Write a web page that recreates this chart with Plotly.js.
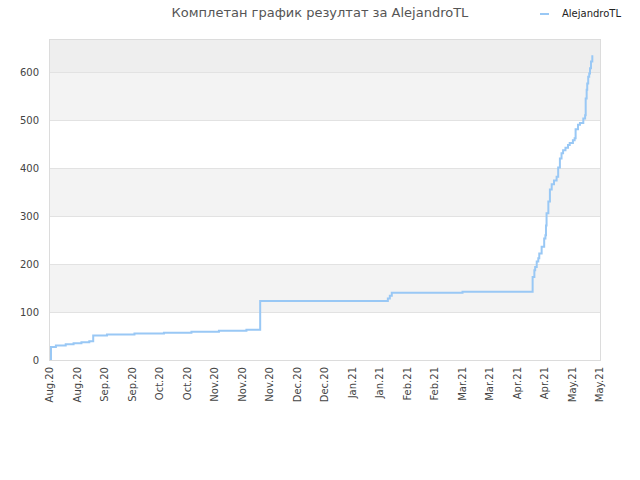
<!DOCTYPE html>
<html>
<head>
<meta charset="utf-8">
<script src="https://cdn.plot.ly/plotly-3.0.1.min.js"></script>
<style>html,body{margin:0;padding:0;background:#fff;}#chart{width:640px;height:480px;}</style>
</head>
<body>
<div id="chart"></div>
<script>
// ---- data ----
const seriesName = "AlejandroTL";
const chartTitle = "Комплетан график резултат за AlejandroTL";
const dates = [
  "2020-08-10 12:00", "2020-08-10 12:00", "2020-08-13", "2020-08-18", "2020-08-22",
  "2020-08-26", "2020-08-30", "2020-09-01", "2020-09-08", "2020-09-22",
  "2020-10-07", "2020-10-21", "2020-11-04", "2020-11-18", "2020-11-25",
  "2021-01-29", "2021-01-30", "2021-01-31", "2021-03-08",
  "2021-04-12 17:00", "2021-04-13 14:00", "2021-04-14 00:00", "2021-04-14 19:00",
  "2021-04-15 14:00", "2021-04-16 02:00", "2021-04-17 07:00", "2021-04-18 14:00",
  "2021-04-19 05:00", "2021-04-19 12:00", "2021-04-19 19:00", "2021-04-20 17:00",
  "2021-04-21 12:00", "2021-04-22 10:00", "2021-04-23 14:00", "2021-04-24 22:00",
  "2021-04-25 17:00", "2021-04-26 14:00", "2021-04-27 10:00", "2021-04-28 05:00",
  "2021-04-29 10:00", "2021-04-30 17:00", "2021-05-01 14:00", "2021-05-03 05:00",
  "2021-05-04 02:00", "2021-05-04 14:00", "2021-05-05 19:00", "2021-05-06 19:00",
  "2021-05-08 12:00", "2021-05-09 10:00", "2021-05-09 17:00", "2021-05-10 05:00",
  "2021-05-10 12:00", "2021-05-11 00:00", "2021-05-11 12:00", "2021-05-11 22:00",
  "2021-05-12 10:00", "2021-05-13 02:00"
];
const values = [
  0, 27, 30, 33, 35,
  37, 39, 51, 53, 55,
  57, 59, 61, 63, 123,
  128, 134, 140, 142,
  173, 187, 194, 205,
  212, 222, 236, 253,
  260, 280, 306, 330,
  355, 366, 374, 382,
  401, 420, 431, 437,
  442, 448, 452, 458,
  462, 481, 490, 494,
  503, 510, 545, 563,
  576, 590, 597, 608,
  622, 635
];
const xRange = ["2020-08-10", "2021-05-17"];
const yRange = [0, 666.7];
const bandEdges = [100, 200, 300, 400, 500, 600, 666.7];

// ---- chart ----
const lineColor = "#99c8f5";
const font = "DejaVu Sans, sans-serif";

const shapes = [
  {type:"rect", xref:"paper", yref:"y", x0:0, x1:1, y0:bandEdges[0], y1:bandEdges[1], fillcolor:"#f3f3f3", line:{width:0}, layer:"below"},
  {type:"rect", xref:"paper", yref:"y", x0:0, x1:1, y0:bandEdges[2], y1:bandEdges[3], fillcolor:"#f3f3f3", line:{width:0}, layer:"below"},
  {type:"rect", xref:"paper", yref:"y", x0:0, x1:1, y0:bandEdges[4], y1:bandEdges[5], fillcolor:"#f3f3f3", line:{width:0}, layer:"below"},
  {type:"rect", xref:"paper", yref:"y", x0:0, x1:1, y0:bandEdges[5], y1:bandEdges[6], fillcolor:"#eeeeee", line:{width:0}, layer:"below"},
  // legend sample
  {type:"line", xref:"paper", yref:"paper", x0:0.8909, x1:0.9073, y0:1.0813, y1:1.0813, line:{color:lineColor, width:2}}
];

const trace = {
  x: dates, y: values, type: "scatter", mode: "lines",
  line: {shape: "hv", color: lineColor, width: 2},
  name: seriesName, showlegend: false, hoverinfo: "x+y"
};

const layout = {
  width: 640, height: 480,
  margin: {l: 50, r: 40, t: 40, b: 120},
  paper_bgcolor: "#ffffff", plot_bgcolor: "#ffffff",
  font: {family: font, size: 10, color: "#444"},
  title: {text: chartTitle, x: 0.5, xanchor: "center", y: 0.975, yanchor: "middle",
          font: {family: font, size: 13, color: "#555"}},
  showlegend: false,
  xaxis: {
    type: "date", range: xRange, tickmode: "linear", tick0: xRange[0], dtick: 14*86400000,
    tickformat: "%b.%y", tickangle: -90, showgrid: false, zeroline: false,
    showline: true, mirror: true, linecolor: "#dcdcdc", linewidth: 1,
    ticks: "", ticklabelstandoff: 2, tickfont: {family: font, size: 10, color: "#444"}, fixedrange: true
  },
  yaxis: {
    range: yRange, tickmode: "linear", tick0: 0, dtick: 100,
    showgrid: true, gridcolor: "#e2e2e2", gridwidth: 1, zeroline: false,
    showline: true, mirror: true, linecolor: "#dcdcdc", linewidth: 1,
    ticks: "", ticklabelstandoff: 8, tickfont: {family: font, size: 10, color: "#444"}, fixedrange: true
  },
  shapes: shapes,
  annotations: [
    {text: seriesName, xref: "paper", yref: "paper", x: 0.9273, y: 1.0813,
     xanchor: "left", yanchor: "middle", showarrow: false,
     font: {family: font, size: 10, color: "#222"}}
  ]
};

Plotly.newPlot("chart", [trace], layout, {displayModeBar: false, staticPlot: true});
</script>
</body>
</html>
